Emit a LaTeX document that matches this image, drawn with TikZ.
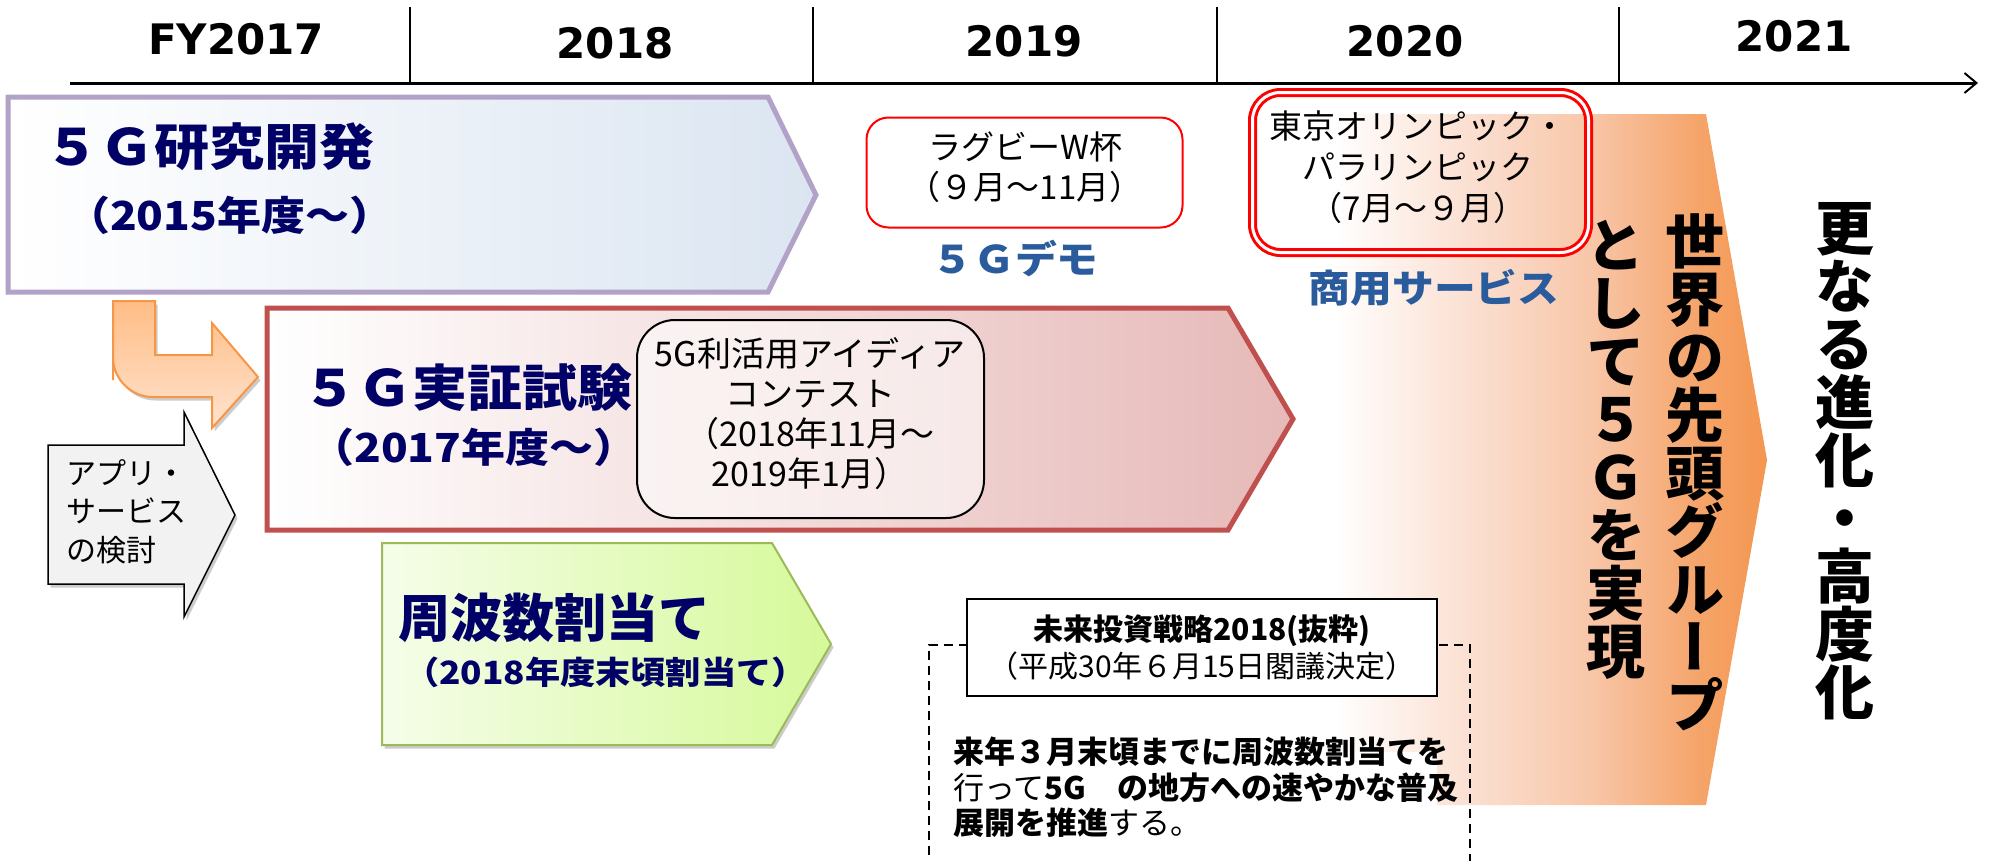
\documentclass[tikz,border=0pt]{standalone}
\usepackage{fontspec}
\setmainfont{Noto Sans CJK JP}
\newfontfamily\jp{Noto Sans CJK JP}
\newfontfamily\jpw[FakeStretch=1.1]{Noto Sans CJK JP}
\newfontfamily\jpv[RawFeature=+vert]{Noto Sans CJK JP}
\newfontfamily\yr{DejaVu Sans}
\usetikzlibrary{shadows,arrows.meta}
\definecolor{navyT}{HTML}{000066}
\definecolor{blueT}{HTML}{2A5B9C}
\definecolor{purpB}{HTML}{B3A2C7}
\definecolor{purpR}{HTML}{DBE5F1}
\definecolor{redB}{HTML}{C0504D}
\definecolor{redR}{HTML}{E6B9B8}
\definecolor{grnB}{HTML}{9BBB59}
\definecolor{grnL}{HTML}{F5FDE9}
\definecolor{grnR}{HTML}{D6F99A}
\definecolor{orB}{HTML}{F79646}
\definecolor{orT}{HTML}{FFBD85}
\definecolor{orBot}{HTML}{FFE3CF}
\definecolor{grayF}{HTML}{F2F2F2}
\definecolor{og1}{HTML}{FBE0D2}
\definecolor{og2}{HTML}{F8C6A8}
\definecolor{og3}{HTML}{F5A469}
\definecolor{og4}{HTML}{F49650}
\pgfdeclarehorizontalshading{orgrad}{100bp}{color(0bp)=(white); color(25bp)=(white); color(33bp)=(white); color(46bp)=(og1); color(58bp)=(og2); color(68.5bp)=(og3); color(75bp)=(og4); color(100bp)=(og4)}
\tikzset{
  yearlbl/.style={font={\yr\bfseries\fontsize{42}{50}\selectfont}, inner sep=0pt},
  titleA/.style={font={\jpw\bfseries\fontsize{50}{56}\selectfont}, text=navyT, inner sep=0pt, anchor=west},
  titleB/.style={font={\jpw\bfseries\fontsize{40}{46}\selectfont}, text=navyT, inner sep=0pt, anchor=west},
  bluelbl/.style={font={\jpw\bfseries\fontsize{38}{44}\selectfont}, text=blueT, inner sep=0pt},
  evtext/.style={align=center, inner sep=0pt},
  vcol/.style={font={\jpv\bfseries\fontsize{59}{58}\selectfont\lineskiplimit=-100pt\lineskip=0pt}, align=center, inner sep=0pt},
  shad/.style={drop shadow={shadow xshift=2.5pt, shadow yshift=-3.5pt, opacity=0.2, fill=black}},
}
\begin{document}
\begin{tikzpicture}[x=1pt,y=-1pt,line join=miter]
\useasboundingbox (0,0) rectangle (1993,860);
% big orange goal arrow (background)
\path[shading=orgrad] (1250,114) -- (1706,114) -- (1767,460) -- (1706,805) -- (1250,805) -- cycle;
\fill[white] (1245,752) rectangle (1437,862);
% timeline
\draw[line width=3pt,-{Straight Barb[length=12pt,width=20pt,line width=2pt]}] (70,83) -- (1978,83);
\foreach \x in {410,813,1217,1619} \draw[line width=2pt] (\x,7) -- (\x,83);
\node[yearlbl] (y17) at (236,39) {FY2017};
\node[yearlbl] (y18) at (615,43) {2018};
\node[yearlbl] (y19) at (1024,41) {2019};
\node[yearlbl] (y20) at (1405,41) {2020};
\node[yearlbl] (y21) at (1794,36) {2021};
% research arrow
\draw[line width=5pt, draw=purpB, left color=white, right color=purpR] (8,97) -- (768,97) -- (816,195) -- (768,292) -- (8,292) -- cycle;
% bent arrow
\draw[line width=2pt, draw=orB, top color=orT, bottom color=orBot, shad] (113,340) -- (113,301) -- (155,301) -- (155,355) -- (212,355) -- (212,323) -- (258,377) -- (212,428) -- (212,397) [rounded corners=40pt] -- (113,397) -- (113,340) [sharp corners] -- cycle;
% gray callout
\draw[line width=1.5pt, fill=grayF, shad] (48,445) -- (184,445) -- (184,412) -- (235,515) -- (184,617) -- (184,584) -- (48,584) -- cycle;
% PoC arrow
\draw[line width=5pt, draw=redB, left color=white, right color=redR] (267,308) -- (1228,308) -- (1293,419) -- (1228,530) -- (267,530) -- cycle;
% frequency arrow
\draw[line width=2pt, draw=grnB, left color=grnL, right color=grnR, shad] (382,543) -- (772,543) -- (831,644) -- (772,745) -- (382,745) -- cycle;
% dashed frame
\draw[dash pattern=on 9pt off 6pt, line width=1.5pt] (929,870) -- (929,645) -- (1470,645) -- (1470,870);
% boxes
\node[draw=black, line width=2pt, fill=white, fill opacity=0.55, rounded corners=38pt, minimum width=347pt, minimum height=198pt, inner sep=0pt] (contest) at (810.5,419) {};
\node[draw=red, line width=2pt, fill=white, rounded corners=22pt, minimum width=316pt, minimum height=110pt, inner sep=0pt] (rugby) at (1024.5,172.5) {};
\node[draw=red, line width=3pt, double=white, double distance=3pt, rounded corners=28pt, minimum width=336pt, minimum height=160pt, inner sep=0pt] (olym) at (1420.5,172.5) {};
% texts
\node[titleA] (res) at (44,147) {５Ｇ研究開発};
\node[titleB] (res2) at (66,215) {（2015年度～）};
\node[titleA] (poc) at (302,388) {５Ｇ実証試験};
\node[titleB] (poc2) at (310,447) {（2017年度～）};
\node[titleA, font={\jp\bfseries\fontsize{52}{56}\selectfont}] (freq) at (398,618) {周波数割当て};
\node[titleA, font={\jpw\bfseries\fontsize{32}{40}\selectfont}] (freq2) at (404,672) {（2018年度末頃割当て）};
\node[anchor=north west, align=left, font={\jp\fontsize{30}{38.5}\selectfont}, inner sep=0pt] (app) at (66,459) {アプリ・\\サービス\\の検討};
\node[evtext, font={\jp\fontsize{34}{40}\selectfont}] (contestT) at (810,414) {5G利活用アイディア\\コンテスト\\（2018年11月～\\2019年1月）};
\node[evtext, font={\jp\fontsize{33}{40}\selectfont}] (rugbyT) at (1025,167) {ラグビーW杯\\（９月～11月）};
\node[evtext, font={\jp\fontsize{33}{41}\selectfont}] (olymT) at (1418,167) {東京オリンピック・\\パラリンピック\\（7月～９月）};
\node[bluelbl] (demo) at (1015,259) {５Ｇデモ};
\node[bluelbl] (comm) at (1434,288) {商用サービス};
\node[draw, line width=1.5pt, fill=white, minimum width=470pt, minimum height=97pt, inner sep=0pt, align=center, font={\jp\fontsize{30}{37}\selectfont}] (strat) at (1202,647.5) {{\bfseries 未来投資戦略2018(抜粋)}\\（平成30年６月15日閣議決定）};
\node[anchor=north west, align=left, inner sep=0pt, font={\jp\fontsize{31}{35.5}\selectfont\lineskiplimit=-100pt}] (body) at (953,737) {{\bfseries 来年３月末頃までに周波数割当てを}\\行って{\bfseries 5G　の地方への速やかな普及}\\{\bfseries 展開を推進}する。};
\node[vcol] (v1) at (1695,472) {世\\界\\の\\先\\頭\\グ\\ル\\ー\\プ};
\node[vcol] (v2) at (1616,450) {と\\し\\て\\５\\Ｇ\\を\\実\\現};
\node[vcol] (v3) at (1845,461) {更\\な\\る\\進\\化\\・\\高\\度\\化};
\end{tikzpicture}
\end{document}
